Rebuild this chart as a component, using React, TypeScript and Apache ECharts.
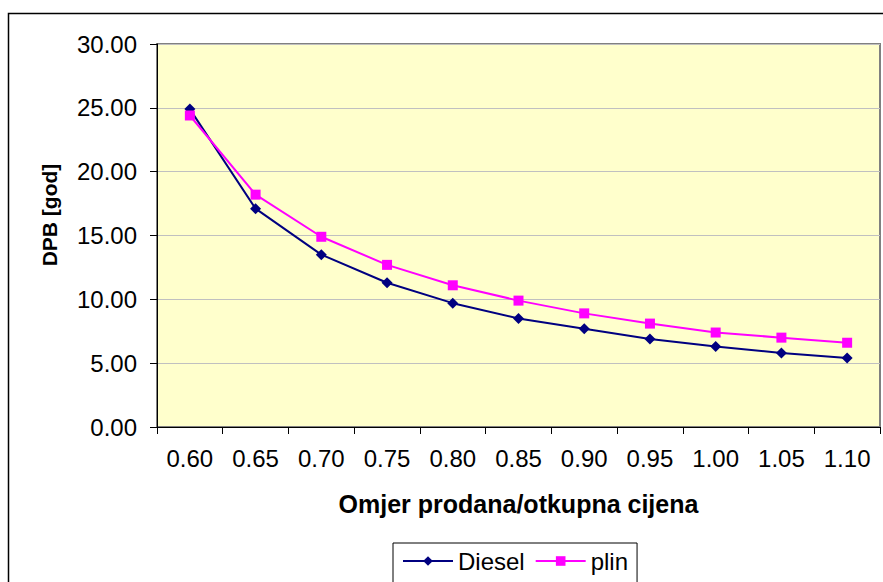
import React, { useEffect, useRef } from "react";
import * as echarts from "echarts";

const categories = ["0.60", "0.65", "0.70", "0.75", "0.80", "0.85", "0.90", "0.95", "1.00", "1.05", "1.10"];
const dieselValues = [24.9, 17.1, 13.5, 11.3, 9.7, 8.5, 7.7, 6.9, 6.3, 5.8, 5.4];
const plinValues = [24.4, 18.2, 14.9, 12.7, 11.1, 9.9, 8.9, 8.1, 7.4, 7.0, 6.6];
const yTicks = { min: 0, max: 30, interval: 5 };

const FONT = "'Liberation Sans', Arial, sans-serif";

export default function App() {
  const ref = useRef<HTMLDivElement>(null);
  useEffect(() => {
    document.body.style.margin = "0";
    if (!ref.current) return;
    const chart = echarts.init(ref.current, undefined, { renderer: "svg" });
    chart.setOption({
      animation: false,
      backgroundColor: "#ffffff",
      textStyle: { fontFamily: FONT },
      grid: {
        left: 157,
        top: 44,
        right: 3,
        bottom: 155,
        show: true,
        backgroundColor: "#FFFFCC",
        borderColor: "#808080",
        borderWidth: 2,
      },
      graphic: [
        {
          type: "rect",
          z: -10,
          shape: { x: 8.5, y: 13.5, width: 1000, height: 1000 },
          style: { fill: "none", stroke: "#000", lineWidth: 1.5 },
        },
        {
          type: "text",
          x: 49,
          y: 215,
          rotation: Math.PI / 2,
          style: {
            text: "DPB [god]",
            font: "bold 21px " + FONT,
            fill: "#000",
            align: "center",
            verticalAlign: "middle",
          },
        },
      ],
      xAxis: {
        type: "category",
        data: categories,
        boundaryGap: true,
        name: "Omjer prodana/otkupna cijena",
        nameLocation: "middle",
        nameGap: 64,
        nameTextStyle: { fontSize: 25, fontWeight: "bold", color: "#000", fontFamily: FONT },
        axisLine: { lineStyle: { color: "#000", width: 1 } },
        axisTick: { show: true, length: 7, alignWithLabel: false, lineStyle: { color: "#000" } },
        axisLabel: { fontSize: 24, color: "#000", margin: 19, fontFamily: FONT },
        splitLine: { show: false },
      },
      yAxis: {
        type: "value",
        min: yTicks.min,
        max: yTicks.max,
        interval: yTicks.interval,
        axisLine: { show: true, lineStyle: { color: "#000", width: 1 } },
        axisTick: { show: true, length: 7, lineStyle: { color: "#000" } },
        axisLabel: {
          fontSize: 24,
          color: "#000",
          margin: 20,
          fontFamily: FONT,
          formatter: (v: number) => v.toFixed(2),
        },
        splitLine: { show: true, lineStyle: { color: "#C0C0C0", width: 1 } },
      },
      legend: {
        data: ["Diesel", "plin"],
        left: 393,
        top: 543,
        padding: [6, 9, 14, 9],
        itemWidth: 50,
        itemHeight: 12,
        itemGap: 10,
        borderColor: "#000",
        borderWidth: 1,
        backgroundColor: "#fff",
        textStyle: { fontSize: 24, color: "#000", fontFamily: FONT },
      },
      series: [
        {
          name: "Diesel",
          type: "line",
          data: dieselValues,
          symbol: "diamond",
          symbolSize: 11,
          color: "#000080",
          lineStyle: { color: "#000080", width: 2 },
          itemStyle: { color: "#000080" },
        },
        {
          name: "plin",
          type: "line",
          data: plinValues,
          symbol: "rect",
          symbolSize: 10,
          color: "#FF00FF",
          lineStyle: { color: "#FF00FF", width: 2 },
          itemStyle: { color: "#FF00FF" },
        },
      ],
    });
    return () => chart.dispose();
  }, []);
  return <div ref={ref} style={{ width: 883, height: 582, position: "absolute", left: 0, top: 0 }} />;
}
